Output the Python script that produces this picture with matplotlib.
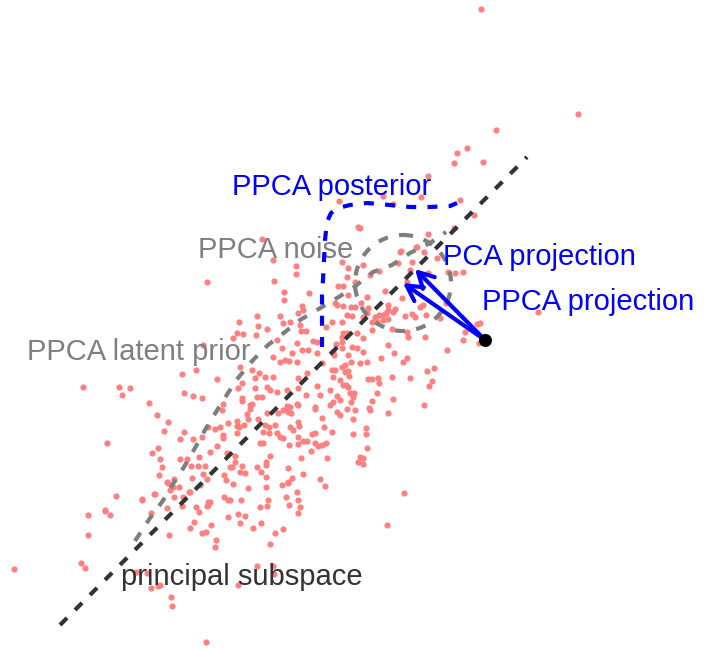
import matplotlib.pyplot as plt
from matplotlib.patches import Circle

# observed points (image-like coordinates: x right, y down)
pts = [
    (481, 9), (578, 114), (496, 130),
    (467, 148), (457, 153), (454, 163), (483, 162), (428, 176), (421, 197), (393, 204), (383, 196),
    (460, 200), (474, 215), (454, 228), (428, 234), (416, 247), (424, 252), (401, 251), (360, 228), (437, 258),
    (339, 201), (358, 227), (262, 239), (273, 260), (296, 266), (296, 274), (274, 281), (284, 292), (284, 300),
    (309, 293), (302, 306), (303, 310), (280, 316), (290, 322), (342, 262), (348, 268), (363, 265), (370, 275),
    (379, 271), (347, 277), (355, 282), (338, 286), (343, 286), (348, 295), (367, 297), (361, 303), (337, 305),
    (343, 306), (351, 307), (355, 307), (347, 315), (352, 316), (367, 313), (375, 317), (383, 315), (388, 310),
    (395, 309), (388, 319), (377, 322), (342, 322), (332, 322), (326, 327), (400, 252), (398, 263), (412, 262),
    (417, 247), (410, 270), (407, 282), (402, 298), (405, 316), (415, 317), (420, 307), (385, 291), (426, 315),
    (448, 272), (455, 273), (463, 272), (428, 273), (423, 305), (538, 312), (480, 323), (465, 332), (425, 337),
    (463, 340), (447, 350), (479, 343),
    (207, 282), (298, 313), (257, 316), (239, 322), (258, 326), (267, 329), (283, 323), (300, 325), (301, 331),
    (306, 331), (343, 333), (237, 333), (243, 334), (256, 335), (277, 340), (297, 343), (313, 341), (317, 342),
    (336, 344), (342, 348), (233, 338), (203, 345), (282, 348), (292, 353), (302, 350), (308, 350), (317, 353),
    (333, 352), (273, 357), (285, 360), (289, 361), (297, 362), (280, 362), (240, 367), (252, 370), (259, 373),
    (265, 377), (255, 378), (273, 377), (298, 378), (307, 373), (322, 363), (332, 370), (342, 367), (333, 377),
    (345, 372), (182, 374), (196, 370), (217, 379), (238, 388), (242, 383), (255, 388), (267, 387), (270, 390),
    (277, 392), (287, 390), (298, 388), (317, 386), (306, 395), (320, 395), (242, 398), (257, 397), (262, 397),
    (343, 385), (337, 396), (184, 393), (193, 396), (202, 398), (223, 404), (250, 405), (288, 407), (298, 405),
    (315, 407), (330, 405), (340, 400),
    (335, 303), (368, 308), (388, 305), (363, 317), (372, 322), (379, 315), (386, 313), (393, 312), (383, 320),
    (412, 314), (446, 303), (440, 318), (477, 324), (347, 333), (357, 333), (342, 337), (342, 342), (363, 338),
    (372, 330), (392, 329), (407, 332), (408, 337), (352, 347), (357, 348), (363, 352), (334, 355), (388, 345),
    (394, 353), (381, 358), (407, 358), (403, 362), (348, 355), (345, 365), (351, 362), (360, 363), (367, 362),
    (335, 370), (348, 371), (349, 376), (427, 371), (434, 368), (340, 380), (346, 385), (368, 379), (372, 379),
    (378, 378), (392, 377), (410, 378), (379, 383), (432, 381), (429, 386), (348, 387), (350, 393), (354, 393),
    (353, 397), (377, 393), (372, 401), (393, 399), (333, 402), (351, 402), (424, 405), (369, 408), (347, 409),
    (355, 410), (337, 412), (340, 415), (388, 413), (353, 419), (366, 428), (330, 390),
    (83, 387), (119, 387), (130, 388), (122, 395), (149, 403), (157, 415), (168, 422), (164, 431), (107, 443),
    (222, 410), (208, 427), (215, 429), (220, 427), (228, 423), (237, 421), (237, 426), (223, 435), (223, 438),
    (237, 433), (184, 432), (180, 439), (193, 439), (202, 437), (217, 446), (210, 452), (158, 448), (152, 453),
    (160, 459), (180, 459), (187, 459), (199, 457), (227, 453), (235, 456), (191, 466), (198, 466), (205, 466),
    (230, 467), (162, 467), (159, 475), (192, 478), (203, 474), (207, 479), (224, 475), (226, 480), (233, 484),
    (167, 482), (174, 479), (179, 487), (170, 490), (189, 492), (200, 485), (116, 496), (142, 499), (155, 494),
    (174, 497), (196, 507), (207, 506), (208, 502), (224, 497), (228, 500), (105, 510), (167, 508),
    (242, 401), (252, 404), (250, 409), (247, 414), (248, 419), (244, 425), (239, 427), (258, 419), (265, 425),
    (269, 427), (275, 425), (263, 432), (269, 433), (277, 433), (280, 437), (283, 438), (290, 427), (293, 430),
    (298, 422), (299, 426), (283, 410), (287, 406), (290, 407), (288, 412), (291, 413), (297, 404), (278, 413),
    (267, 413), (315, 409), (322, 418), (324, 427), (332, 432), (370, 410), (366, 434), (353, 434), (367, 448),
    (360, 457), (363, 458), (358, 462), (363, 464), (312, 434), (315, 433), (298, 437), (303, 441), (307, 441),
    (315, 443), (318, 446), (322, 445), (326, 443), (311, 451), (298, 444), (289, 445), (260, 443), (263, 443),
    (235, 462), (232, 467), (242, 466), (257, 467), (266, 462), (266, 465), (270, 456), (261, 472), (240, 472),
    (245, 473), (266, 477), (288, 468), (301, 458), (327, 458), (303, 474), (292, 478), (288, 482), (320, 479),
    (325, 486), (282, 485), (248, 488), (266, 487), (297, 492), (286, 497), (298, 500), (289, 505), (300, 507),
    (298, 513), (268, 500), (267, 506), (260, 507), (241, 500), (230, 500), (238, 514), (245, 516), (240, 523),
    (261, 523), (253, 528), (283, 529), (387, 525), (404, 493),
    (88, 515), (105, 511), (110, 515), (88, 535), (81, 563), (85, 568), (14, 569), (142, 500), (154, 494),
    (168, 483), (173, 487), (183, 497), (182, 506), (190, 492), (199, 512), (151, 513), (194, 522), (190, 528),
    (169, 535), (136, 572), (147, 573), (151, 588), (158, 586), (171, 597), (172, 606),
    (202, 533), (206, 532), (211, 525), (208, 505), (210, 502), (228, 517), (275, 533), (270, 544), (216, 540),
    (215, 547), (288, 483), (257, 566), (273, 566), (274, 574), (238, 585), (206, 642), (160, 585),
]
pts_x = [p[0] for p in pts]
pts_y = [p[1] for p in pts]

# principal subspace end points
sub_x = [60, 527]
sub_y = [625, 157]

# latent prior density curve
prior_x = [135, 150, 162, 173, 184, 195, 205, 216, 228, 238, 253, 268, 285, 300, 317, 337, 353, 373, 392, 410, 430, 446]
prior_y = [541, 518, 502, 484, 467, 448, 430, 412, 393, 378, 360, 345, 332, 320, 310, 298, 288, 272, 265, 253, 243, 232]

# posterior density curve
post_x = [322, 322, 322, 322, 323, 324, 325, 327, 331, 338, 350, 367, 390, 410, 430, 450, 457]
post_y = [347, 330, 310, 295, 280, 260, 240, 222, 213, 208, 205, 203, 205, 207, 207, 206, 203]

data_pt = (485, 340)
pca_proj = (415, 269)
ppca_proj = (403, 283)
noise_r = 48

plt.rcParams['font.family'] = ['Liberation Sans', 'DejaVu Sans']

fig = plt.figure(figsize=(7.06, 6.49), dpi=100)
ax = fig.add_axes([0, 0, 1, 1])
ax.set_xlim(0, 706)
ax.set_ylim(649, 0)
ax.axis('off')

ax.scatter(pts_x, pts_y, s=20, color='#ff8080', linewidths=0, zorder=1)

dash = (0, (2.4, 2.7))
ax.plot(sub_x, sub_y, color='#333333', lw=3, linestyle=dash, zorder=3)
ax.plot(prior_x, prior_y, color='#7f7f7f', lw=3, linestyle=dash, zorder=2)
ax.add_patch(Circle(ppca_proj, noise_r, fill=False, edgecolor='#7f7f7f', lw=3, linestyle=dash, zorder=2))
ax.plot(post_x, post_y, color='#0000ff', lw=3, linestyle=dash, zorder=4)

for tip in [pca_proj, ppca_proj]:
    ax.annotate('', xy=tip, xytext=data_pt,
                arrowprops=dict(arrowstyle='->,head_length=0.55,head_width=0.3', mutation_scale=20,
                                color='#0000ff', lw=3, shrinkA=0, shrinkB=0), zorder=5)
ax.scatter([data_pt[0]], [data_pt[1]], s=70, color='black', zorder=6)

fs = 21
ax.text(232, 195, 'PPCA posterior', color='#0000ff', fontsize=fs, va='baseline')
ax.text(443, 265, 'PCA projection', color='#0000ff', fontsize=fs, va='baseline')
ax.text(482, 310, 'PPCA projection', color='#0000ff', fontsize=fs, va='baseline')
ax.text(198, 258, 'PPCA noise', color='#7f7f7f', fontsize=fs, va='baseline')
ax.text(27, 360, 'PPCA latent prior', color='#7f7f7f', fontsize=fs, va='baseline')
ax.text(121, 585, 'principal subspace', color='#333333', fontsize=fs, va='baseline')

fig.savefig('out.png', dpi=100)
